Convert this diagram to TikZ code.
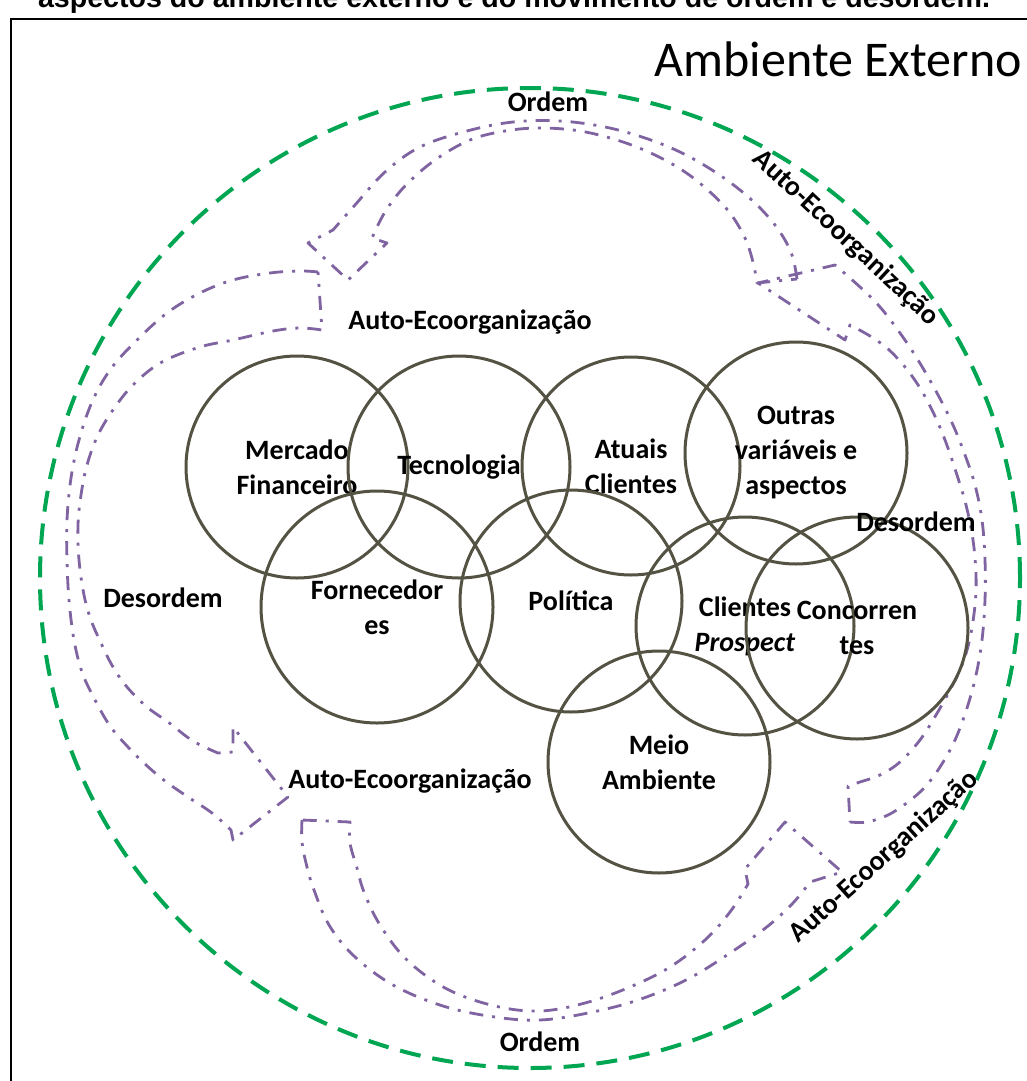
\documentclass[tikz,border=0pt]{standalone}
\usepackage{fontspec}
\setmainfont{Carlito}
\newfontfamily\arialfont{Liberation Sans}
\definecolor{ringgray}{RGB}{84,82,66}
\definecolor{flowpurple}{RGB}{128,100,162}
\definecolor{orbitgreen}{RGB}{0,166,81}
\begin{document}
\begin{tikzpicture}[x=1pt,y=-1pt,
  bubble/.style={circle, draw=ringgray, line width=3pt, minimum size=#1,
    inner sep=0pt, align=center, font=\fontsize{28}{35}\selectfont\bfseries},
  lbl/.style={font=\fontsize{28}{35}\selectfont\bfseries, inner sep=0pt},
  flow/.style={draw=flowpurple, line width=2.8pt,
    dash pattern=on 14pt off 9pt on 3pt off 9pt, line join=round},
  orbit/.style={draw=orbitgreen, line width=4pt, dash pattern=on 21pt off 12pt}
]
\useasboundingbox (0,0) rectangle (1026,1081);
\fill[white] (0,0) rectangle (1026,1081);

% caption above the frame (its upper part lies beyond the page)
\node[anchor=base, inner sep=0pt, font=\arialfont\bfseries\fontsize{28.6}{30}\selectfont]
  (caption) at (514,8) {aspectos do ambiente externo e do movimento de ordem e desordem.};

% frame
\draw[line width=2pt] (11,1095) -- (11,19) -- (1045,19);

% title
\node[anchor=base east, inner sep=0pt, font=\fontsize{50}{60}\selectfont]
  (title) at (1022,77) {Ambiente Externo};

% outer environment boundary
\draw[orbit] (530,578) circle[radius=490pt];

% ---- cycle bands (dash-dot) ----
% top band: tail at upper right, head at upper left
\draw[flow] plot[smooth, tension=0.6] coordinates {(797,279) (792,255) (780,232) (762,210) (740,190) (712,170) (680,152) (645,138) (605,127) (560,121) (513,122) (467,131) (420,147) (385,172) (355,205) (333,230)}
  -- (308,243) -- (348,280) -- (387,243)
  -- plot[smooth, tension=0.6] coordinates {(372,238) (385,212) (405,186) (435,160) (470,140) (505,131) (540,128) (580,131) (620,141) (655,155) (685,172) (710,192) (730,213) (745,238) (753,262) (757,283)}
  -- cycle;

% left band: tail at upper left, head at lower left
\draw[flow] plot[smooth, tension=0.6] coordinates {(318,272) (300,271) (270,273) (233,280) (200,293) (167,313) (135,342) (110,370) (92,402) (79,440) (71,478) (67,520) (67,560) (69,600) (74,640) (82,672) (94,698) (110,726) (128,747) (145,764) (165,781) (188,797) (212,813) (231,830)}
  -- (233,840) -- (288,797) -- (233,727) -- (233,752)
  -- plot[smooth, tension=0.6] coordinates {(218,753) (193,741) (168,722) (147,707) (127,687) (113,667) (101,643) (91,620) (84,595) (79,560) (78,525) (81,495) (87,465) (98,435) (115,407) (135,383) (162,362) (200,347) (233,340) (273,331) (300,328) (322,330)}
  -- cycle;

% bottom band: tail at lower left, head at lower right
\draw[flow] plot[smooth, tension=0.6] coordinates {(302,820) (302,842) (307,867) (314,890) (329,925) (354,956) (393,985) (443,1006) (495,1017) (540,1020) (588,1013) (638,1000) (688,979) (733,951) (768,926) (793,903) (810,882)}
  -- (842,872) -- (785,822) -- (745,869)
  -- plot[smooth, tension=0.6] coordinates {(748,884) (730,912) (705,940) (670,967) (630,987) (585,1003) (540,1011) (495,1006) (447,989) (407,960) (380,925) (364,892) (357,868) (350,843) (350,822)}
  -- cycle;

% right band: tail at lower right, head at upper right
\draw[flow] plot[smooth, tension=0.6] coordinates {(850,822) (867,822) (888,815) (908,802) (925,787) (940,767) (955,740) (967,708) (976,675) (982,640) (985,600) (985,560) (982,520) (975,485) (965,455) (953,425) (937,393) (918,360) (900,333) (880,307) (860,287) (835,265)}
  -- (758,283) -- (845,340)
  -- plot[smooth, tension=0.6] coordinates {(850,325) (870,336) (888,349) (905,367) (920,388) (933,412) (945,440) (956,472) (966,505) (973,540) (976,575) (975,605) (970,638) (962,665) (950,690) (936,715) (920,740) (900,762) (880,775) (860,782) (848,786)}
  -- cycle;

% ---- environment variables ----
\node[bubble=222pt] (fin)  at (297,467) {Mercado\\Financeiro};
\node[bubble=222pt] (tec)  at (459,467) {Tecnologia};
\node[bubble=218pt] (atu)  at (631,466) {Atuais\\Clientes};
\node[bubble=222pt] (out)  at (796,453) {Outras\\variáveis e\\aspectos};
\node[bubble=232pt] (forn) at (377,607) {Fornecedor\\es};
\node[bubble=222pt] (pol)  at (571,601) {Política};
\node[bubble=218pt] (pros) at (745,626) {Clientes\\\textit{Prospect}};
\node[bubble=222pt] (conc) at (857,628) {Concorren\\tes};
\node[bubble=222pt] (meio) at (659,762) {Meio\\Ambiente};

% ---- cycle labels ----
\node[lbl] (ordemT) at (548,102) {Ordem};
\node[lbl] (ordemB) at (540,1042) {Ordem};
\node[lbl] (desL) at (163,598) {Desordem};
\node[lbl] (desR) at (916,522) {Desordem};
\node[lbl] (autoTL) at (470,322) {Auto-Ecoorganização};
\node[lbl] (autoBL) at (410,781) {Auto-Ecoorganização};
\node[lbl, rotate=-43] (autoTR) at (846,238) {Auto-Ecoorganização};
\node[lbl, rotate=42] (autoBR) at (884,857) {Auto-Ecoorganização};
\end{tikzpicture}
\end{document}
